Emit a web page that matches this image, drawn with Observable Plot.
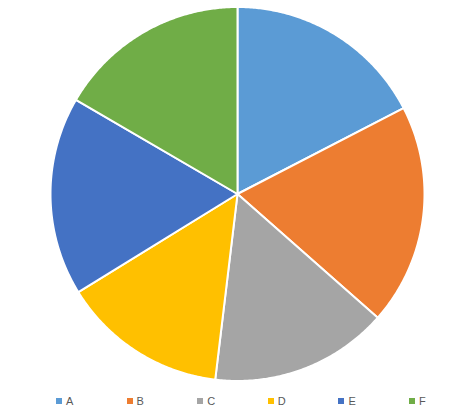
<!DOCTYPE html>
<html>
<head>
<meta charset="utf-8">
<script src="https://cdn.jsdelivr.net/npm/d3@7"></script>
<script src="https://cdn.jsdelivr.net/npm/@observablehq/plot@0.6"></script>
<style>
  body { margin: 0; background: #fff; font-family: "Liberation Sans", Arial, sans-serif; }
  #legend { position: relative; height: 29px; }
  .item { position: absolute; top: 5px; display: flex; align-items: center; font-size: 11px; color: #595959; }
  .sw { width: 6px; height: 6px; margin-right: 4px; }
</style>
</head>
<body>
<div id="chart"></div>
<div id="legend"></div>
<script>
const categories = ["A", "B", "C", "D", "E", "F"];
const values = [17.4, 19.1, 15.4, 14.3, 17.2, 16.6];
const colors = ["#5B9BD5", "#ED7D31", "#A5A5A5", "#FFC000", "#4472C4", "#70AD47"];

const total = d3.sum(values);
const points = [];
let start = 0;
categories.forEach((c, i) => {
  const end = start + values[i] / total * 2 * Math.PI;
  points.push({key: c, x: 0, y: 0});
  const n = Math.max(2, Math.ceil((end - start) / (Math.PI / 360)));
  for (let k = 0; k <= n; k++) {
    const a = start + (end - start) * k / n;
    points.push({key: c, x: Math.sin(a), y: Math.cos(a)});
  }
  points.push({key: c, x: 0, y: 0});
  start = end;
});

const R = 187, cx = 237, cy = 193.5, W = 473, H = 390;
const chart = Plot.plot({
  width: W, height: H,
  margin: 0,
  x: {domain: [-cx / R, (W - cx) / R], axis: null},
  y: {domain: [-(H - cy) / R, cy / R], axis: null},
  color: {domain: categories, range: colors},
  marks: [
    Plot.line(points, {x: "x", y: "y", z: "key", fill: "key", stroke: "white", strokeWidth: 2, strokeLinejoin: "round"})
  ]
});
document.getElementById("chart").append(chart);

const legend = document.getElementById("legend");
categories.forEach((c, i) => {
  const it = document.createElement("div");
  it.className = "item";
  it.style.left = (56 + i * 70.6) + "px";
  const sw = document.createElement("span");
  sw.className = "sw";
  sw.style.background = colors[i];
  const lb = document.createElement("span");
  lb.textContent = c;
  it.append(sw, lb);
  legend.append(it);
});
</script>
</body>
</html>
